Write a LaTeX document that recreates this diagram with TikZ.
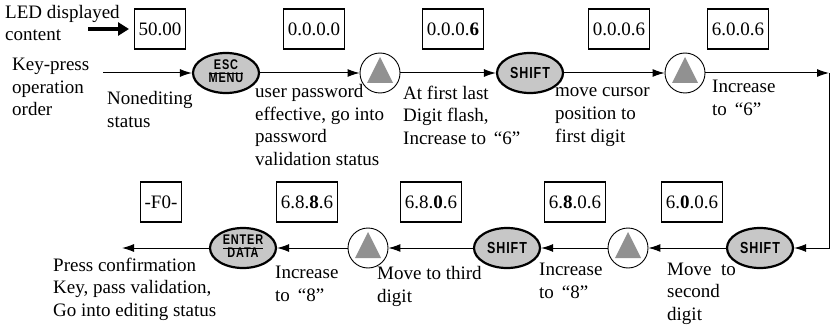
\documentclass[tikz,border=0pt]{standalone}
\usepackage{fontspec}
\setmainfont{Liberation Serif}
\newfontfamily\keyfont{Liberation Sans}[FakeStretch=0.78, LetterSpace=6]
\usetikzlibrary{positioning,arrows.meta,shapes,calc}

\definecolor{keyfill}{gray}{0.78}
\definecolor{trifill}{gray}{0.57}

% two-line key caption with a rule between
\newcommand{\twokey}[2]{{\fontsize{14}{14}\selectfont\renewcommand{\arraystretch}{0.78}%
    \begin{tabular}{@{}c@{}}#1\\\hline #2\end{tabular}}}

\begin{document}
\begin{tikzpicture}[
    x=1pt, y=-1pt,
    every node/.style = {font=\fontsize{19}{22.5}\selectfont},
    disp/.style       = {rectangle, draw=black, line width=1.2pt, minimum height=40pt,
                          inner xsep=4pt, inner ysep=0pt},
    key/.style        = {ellipse, draw=black, line width=2.2pt, fill=keyfill, minimum width=66pt,
                          minimum height=40pt, inner sep=0pt,
                          font=\keyfont\bfseries\fontsize{16}{16}\selectfont},
    upkey/.style      = {circle, draw=black, line width=0.9pt, fill=white, minimum size=40pt,
                          inner sep=0pt,
                          path picture={\fill[trifill] ($(path picture bounding box.center)+(0pt,16pt)$)
                              -- ++(-13pt,-26pt) -- ++(26pt,0pt) -- cycle;}},
    arr/.style        = {-{Latex[length=12pt,width=8pt]}, line width=1pt},
    note/.style       = {align=left, anchor=base west, inner sep=0pt},
]
\useasboundingbox (0,0) rectangle (834,326);

% LED display contents, top row then bottom row
\node[disp] (disp0) at (160,29) {50.00};
\node[disp] (disp1) at (314,29) {0.0.0.0};
\node[disp] (disp2) at (453,29) {0.0.0.\textbf{6}};
\node[disp] (disp3) at (619,29) {0.0.0.6};
\node[disp] (disp4) at (738,29) {6.0.0.6};
\node[disp] (disp5) at (692,202) {6.\textbf{0}.0.6};
\node[disp] (disp6) at (575,202) {6.\textbf{8}.0.6};
\node[disp] (disp7) at (431,202) {6.8.\textbf{0}.6};
\node[disp] (disp8) at (307,202) {6.8.\textbf{8}.6};
\node[disp] (disp9) at (161,202) {-F0-};

% Keys pressed in order
\node[key]   (esc)   at (226,73)  {\twokey{ESC}{MENU}};
\node[upkey] (up1)   at (380,73)  {};
\node[key]   (sh1)   at (530,73)  {SHIFT};
\node[upkey] (up2)   at (685,73)  {};
\node[key]   (sh3)   at (760,248) {SHIFT};
\node[upkey] (up3)   at (628,248) {};
\node[key]   (sh2)   at (507,248) {SHIFT};
\node[upkey] (up4)   at (368,248) {};
\node[key]   (enter) at (243,248) {\twokey{ENTER}{DATA}};

\coordinate (ledtail) at (88,29);
\coordinate (start)   at (103,73);
\coordinate (turn)    at (829,73);
\coordinate (finish)  at (122,248);

% Flow of key presses
\draw[-{Triangle[length=11pt,width=13pt]}, line width=3.5pt] (ledtail) -- ([xshift=-5pt]disp0.west);
\draw[arr] (start) -- (esc);
\draw[arr] (esc) -- (up1);
\draw[arr] (up1) -- (sh1);
\draw[arr] (sh1) -- (up2);
\draw[arr] (up2) -- (turn);
\draw[arr] (turn) |- (sh3);
\draw[arr] (sh3) -- (up3);
\draw[arr] (up3) -- (sh2);
\draw[arr] (sh2) -- (up4);
\draw[arr] (up4) -- (enter);
\draw[arr] (enter) -- (finish);

% Texts (placed at the baseline of their last line)
\node[note] (ledlbl) at (5,41)    {LED displayed\\content};
\node[note] (keylbl) at (12,116)  {Key-press\\operation\\order};
\node[note] (s0)     at (107,127) {Nonediting\\status};
\node[note] (s1)     at (255,165) {user password\\effective, go into\\password\\validation status};
\node[note] (s2)     at (403,144) {At first last\\Digit flash,\\Increase to \,“6”};
\node[note] (s3)     at (555,142) {move cursor\\position to\\first digit};
\node[note] (s4)     at (712,115) {Increase\\to \,“6”};
\node[note] (s5)     at (667,320) {Move\ \ to\\second\\digit};
\node[note] (s6)     at (539,298) {Increase\\to \,“8”};
\node[note] (s7)     at (377,302) {Move to third\\digit};
\node[note] (s8)     at (275,301) {Increase\\to \,“8”};
\node[note] (s9)     at (53,316)  {Press confirmation\\Key, pass validation,\\Go into editing status};

\end{tikzpicture}
\end{document}
